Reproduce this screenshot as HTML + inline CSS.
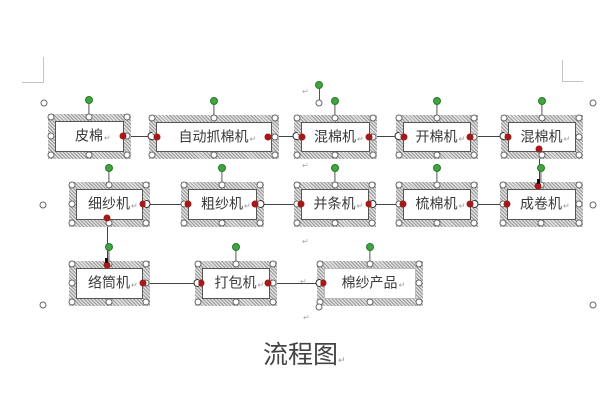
<!DOCTYPE html>
<html><head><meta charset="utf-8"><style>
html,body{margin:0;padding:0;background:#fff}
body{width:600px;height:400px;position:relative;overflow:hidden;font-family:"Liberation Sans","Noto Sans CJK SC",sans-serif}
.b{position:absolute;z-index:1}
.b::before{content:"";position:absolute;left:-3.5px;top:-3.5px;right:-3.5px;bottom:-3.5px;background:repeating-linear-gradient(45deg,#999 0 1px,#e0e0e0 1px 2.5px);z-index:0}
.b::after{content:"";position:absolute;left:3.5px;top:3.5px;right:3.5px;bottom:3.5px;background:#fff;border:1.5px solid #555;box-sizing:border-box;z-index:0}
.b.nb::after{border:1px solid #bbb}
.t{position:absolute;left:0;right:0;top:50%;transform:translateY(-52%);text-align:center;font-size:14px;line-height:1;color:#3a3a3a;z-index:2}
.t i{font-style:normal;position:relative;display:inline-block}
.t s{text-decoration:none;position:absolute;left:100%;bottom:0;font-size:8px;color:#999;margin-left:1px}
.h{position:absolute;width:5px;height:5px;border:1px solid #666;border-radius:50%;background:#fff;transform:translate(-50%,-50%);z-index:3}
.st{position:absolute;left:50%;top:-17px;width:1.2px;height:17px;background:#555;transform:translateX(-50%);z-index:2}
.g{position:absolute;left:50%;top:-17px;width:6px;height:6px;border-radius:50%;background:#3fa53f;border:1px solid #2a7a2a;transform:translate(-50%,-50%);z-index:4}
.r{position:absolute;width:7px;height:7px;border-radius:50%;background:#a31a1a;transform:translate(-50%,-50%);z-index:5}
.p00{left:0;top:0}.p10{left:50%;top:0}.p20{left:100%;top:0}
.p01{left:0;top:50%}.p21{left:100%;top:50%}
.p02{left:0;top:100%}.p12{left:50%;top:100%}.p22{left:100%;top:100%}
.hl{position:absolute;height:1.4px;background:#444;z-index:0}
.vl{position:absolute;width:1.4px;background:#444;z-index:0}
.c{position:absolute;width:4px;height:6px;border:1.3px solid #333;border-right:none;border-radius:4px 0 0 4px;background:#fff;transform:translate(-50%,-50%);z-index:2}
.ch{position:absolute;width:5px;height:5px;border:1px solid #666;border-radius:50%;background:#fff;transform:translate(-50%,-50%);z-index:6}
.mk{position:absolute;background:#c4c4c4}
.ret{position:absolute;font-size:8px;color:#aaa;line-height:1}
.sq{position:absolute;width:3px;height:5px;background:#111;z-index:6}
.cap{position:absolute;left:263px;top:342px;font-size:25px;color:#444;line-height:1.1}
.cap span{font-size:9px;color:#999}
</style></head><body>

<div class="mk" style="left:43px;top:57px;width:1.2px;height:26px"></div>
<div class="mk" style="left:22px;top:82px;width:22px;height:1.2px"></div>
<div class="mk" style="left:562px;top:60px;width:1.2px;height:22px"></div>
<div class="mk" style="left:562px;top:81px;width:21px;height:1.2px"></div>

<span class="ch" style="left:44px;top:103px"></span>
<span class="ch" style="left:43px;top:205px"></span>
<span class="ch" style="left:43px;top:305px"></span>
<span class="ch" style="left:593px;top:103px"></span>
<span class="ch" style="left:593px;top:205px"></span>
<span class="ch" style="left:593px;top:305px"></span>
<span class="ch" style="left:319px;top:103px"></span>
<span class="ch" style="left:319px;top:307px"></span>
<div class="vl" style="left:318.5px;top:85px;height:18px;background:#555"></div>
<span class="g" style="left:319px;top:85px"></span>

<span class="ret" style="left:302px;top:88px">↵</span>
<span class="ret" style="left:302px;top:162px">↵</span>
<span class="ret" style="left:302px;top:238px">↵</span>
<span class="ret" style="left:300px;top:278px">↵</span>
<span class="ret" style="left:303px;top:314px">↵</span>

<div class="hl" style="left:127px;top:135.5px;width:25px"></div>
<div class="hl" style="left:275px;top:135.5px;width:22px"></div>
<div class="hl" style="left:373px;top:135.5px;width:26px"></div>
<div class="hl" style="left:474px;top:135.5px;width:30px"></div>
<span class="c" style="left:150px;top:136px"></span>
<span class="c" style="left:295px;top:136px"></span>
<span class="c" style="left:397px;top:136px"></span>
<span class="c" style="left:502px;top:136px"></span>
<div class="hl" style="left:146px;top:203.5px;width:38px"></div>
<div class="hl" style="left:260px;top:203.5px;width:37px"></div>
<div class="hl" style="left:372px;top:203.5px;width:27px"></div>
<div class="hl" style="left:474px;top:203.5px;width:29px"></div>
<span class="c" style="left:148px;top:204px;transform:translate(-50%,-50%) scaleX(-1)"></span>
<span class="c" style="left:262px;top:204px;transform:translate(-50%,-50%) scaleX(-1)"></span>
<span class="c" style="left:374px;top:204px;transform:translate(-50%,-50%) scaleX(-1)"></span>
<span class="c" style="left:476px;top:204px;transform:translate(-50%,-50%) scaleX(-1)"></span>
<div class="hl" style="left:146px;top:282.5px;width:52px"></div>
<div class="hl" style="left:273px;top:282.5px;width:47px"></div>
<span class="c" style="left:196px;top:283px"></span>
<span class="c" style="left:318px;top:283px"></span>
<div class="vl" style="left:106.5px;top:218px;height:46px"></div>
<div class="vl" style="left:538.5px;top:149px;height:36px"></div>
<span class="sq" style="left:105px;top:258px"></span>
<span class="sq" style="left:537px;top:179px"></span>

<div class="b" style="left:51px;top:117px;width:76px;height:38px"><div class="t"><i>皮棉<s>↵</s></i></div>
<span class="st"></span><span class="g"></span>
<span class="h p00"></span><span class="h p10"></span><span class="h p20"></span><span class="h p01"></span><span class="h p21"></span><span class="h p02"></span><span class="h p12"></span><span class="h p22"></span>
<span class="r" style="left:72px;top:50%"></span></div>

<div class="b" style="left:152px;top:118px;width:123px;height:37px"><div class="t"><i>自动抓棉机<s>↵</s></i></div>
<span class="st"></span><span class="g"></span>
<span class="h p00"></span><span class="h p10"></span><span class="h p20"></span><span class="h p01"></span><span class="h p21"></span><span class="h p02"></span><span class="h p12"></span><span class="h p22"></span>
<span class="r" style="left:5px;top:50%"></span><span class="r" style="left:116px;top:50%"></span></div>

<div class="b" style="left:297px;top:118px;width:76px;height:37px"><div class="t"><i>混棉机<s>↵</s></i></div>
<span class="st"></span><span class="g"></span>
<span class="h p00"></span><span class="h p10"></span><span class="h p20"></span><span class="h p01"></span><span class="h p21"></span><span class="h p02"></span><span class="h p12"></span><span class="h p22"></span>
<span class="r" style="left:5px;top:50%"></span><span class="r" style="left:72px;top:50%"></span></div>

<div class="b" style="left:399px;top:118px;width:75px;height:37px"><div class="t"><i>开棉机<s>↵</s></i></div>
<span class="st"></span><span class="g"></span>
<span class="h p00"></span><span class="h p10"></span><span class="h p20"></span><span class="h p01"></span><span class="h p21"></span><span class="h p02"></span><span class="h p12"></span><span class="h p22"></span>
<span class="r" style="left:5px;top:50%"></span><span class="r" style="left:71px;top:50%"></span></div>

<div class="b" style="left:504px;top:118px;width:75px;height:37px"><div class="t"><i>混棉机<s>↵</s></i></div>
<span class="st"></span><span class="g"></span>
<span class="h p00"></span><span class="h p10"></span><span class="h p20"></span><span class="h p01"></span><span class="h p21"></span><span class="h p02"></span><span class="h p12"></span><span class="h p22"></span>
<span class="r" style="left:4px;top:50%"></span><span class="r" style="left:35px;top:31px"></span></div>

<div class="b" style="left:72px;top:185px;width:74px;height:38px"><div class="t"><i>细纱机<s>↵</s></i></div>
<span class="st"></span><span class="g"></span>
<span class="h p00"></span><span class="h p10"></span><span class="h p20"></span><span class="h p01"></span><span class="h p21"></span><span class="h p02"></span><span class="h p12"></span><span class="h p22"></span>
<span class="r" style="left:71px;top:50%"></span><span class="r" style="left:35px;top:33px"></span></div>

<div class="b" style="left:184px;top:185px;width:76px;height:38px"><div class="t"><i>粗纱机<s>↵</s></i></div>
<span class="st"></span><span class="g"></span>
<span class="h p00"></span><span class="h p10"></span><span class="h p20"></span><span class="h p01"></span><span class="h p21"></span><span class="h p02"></span><span class="h p12"></span><span class="h p22"></span>
<span class="r" style="left:4px;top:50%"></span><span class="r" style="left:71px;top:50%"></span></div>

<div class="b" style="left:297px;top:185px;width:75px;height:38px"><div class="t"><i>并条机<s>↵</s></i></div>
<span class="st"></span><span class="g"></span>
<span class="h p00"></span><span class="h p10"></span><span class="h p20"></span><span class="h p01"></span><span class="h p21"></span><span class="h p02"></span><span class="h p12"></span><span class="h p22"></span>
<span class="r" style="left:4px;top:50%"></span><span class="r" style="left:72px;top:50%"></span></div>

<div class="b" style="left:399px;top:185px;width:75px;height:38px"><div class="t"><i>梳棉机<s>↵</s></i></div>
<span class="st"></span><span class="g"></span>
<span class="h p00"></span><span class="h p10"></span><span class="h p20"></span><span class="h p01"></span><span class="h p21"></span><span class="h p02"></span><span class="h p12"></span><span class="h p22"></span>
<span class="r" style="left:4px;top:50%"></span><span class="r" style="left:71px;top:50%"></span></div>

<div class="b" style="left:503px;top:185px;width:76px;height:38px"><div class="t"><i>成卷机<s>↵</s></i></div>
<span class="st"></span><span class="g"></span>
<span class="h p00"></span><span class="h p10"></span><span class="h p20"></span><span class="h p01"></span><span class="h p21"></span><span class="h p02"></span><span class="h p12"></span><span class="h p22"></span>
<span class="r" style="left:4px;top:50%"></span><span class="r" style="left:35px;top:1px"></span></div>

<div class="b" style="left:72px;top:264px;width:74px;height:38px"><div class="t"><i>络筒机<s>↵</s></i></div>
<span class="st"></span><span class="g"></span>
<span class="h p00"></span><span class="h p10"></span><span class="h p20"></span><span class="h p01"></span><span class="h p21"></span><span class="h p02"></span><span class="h p12"></span><span class="h p22"></span>
<span class="r" style="left:71px;top:50%"></span><span class="r" style="left:35px;top:1px"></span></div>

<div class="b" style="left:198px;top:264px;width:75px;height:38px"><div class="t"><i>打包机<s>↵</s></i></div>
<span class="st"></span><span class="g"></span>
<span class="h p00"></span><span class="h p10"></span><span class="h p20"></span><span class="h p01"></span><span class="h p21"></span><span class="h p02"></span><span class="h p12"></span><span class="h p22"></span>
<span class="r" style="left:3px;top:50%"></span><span class="r" style="left:70px;top:50%"></span></div>

<div class="b nb" style="left:320px;top:264px;width:99px;height:38px"><div class="t"><i>棉纱产品<s>↵</s></i></div>
<span class="st"></span><span class="g"></span>
<span class="h p00"></span><span class="h p10"></span><span class="h p20"></span><span class="h p01"></span><span class="h p21"></span><span class="h p02"></span><span class="h p12"></span><span class="h p22"></span>
<span class="r" style="left:3px;top:50%"></span></div>

<div class="cap">流程图<span>↵</span></div>

</body></html>
